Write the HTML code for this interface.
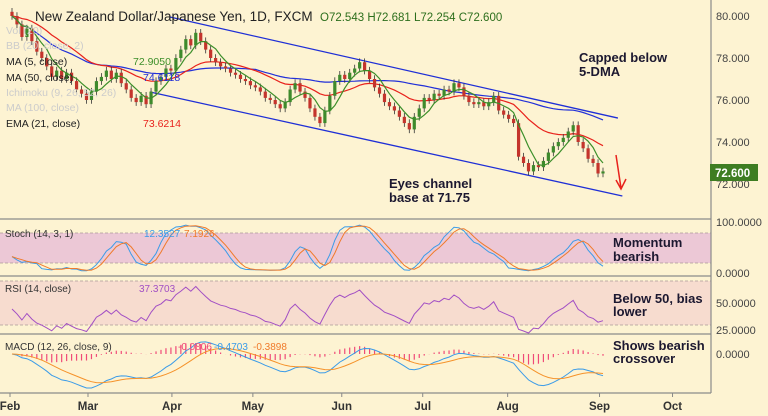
<!DOCTYPE html>
<html><head><meta charset="utf-8"><style>
html,body{margin:0;padding:0;background:#fdf3d2;}
svg{display:block;font-family:"Liberation Sans",sans-serif;}
</style></head><body>
<svg id="chart" width="768" height="416" viewBox="0 0 768 416" xmlns="http://www.w3.org/2000/svg">
<rect x="0" y="0" width="768" height="416" fill="#fdf3d2"/>
<g id="panes"></g>
<g id="marks"></g>
<g id="labels"></g>
</svg>
<script>
const closes=[80.0,79.6,79.0,79.4,78.8,78.3,78.0,77.6,77.1,77.4,77.0,77.3,76.9,76.5,76.3,76.0,76.4,76.9,77.1,77.4,
77.0,77.3,76.8,76.5,76.1,75.9,76.2,75.8,76.4,76.9,77.1,77.5,77.4,78.0,78.4,78.9,78.6,79.2,78.8,78.4,
78.0,77.8,77.6,77.5,77.3,77.2,77.0,76.9,76.7,76.6,76.4,76.1,76.0,75.8,75.6,75.9,76.5,76.8,76.4,76.1,
75.6,75.2,74.9,75.5,76.2,76.9,77.2,77.0,77.3,77.5,77.8,77.4,77.0,76.6,76.3,75.9,75.7,75.5,75.2,74.9,
74.6,75.2,75.6,76.1,76.0,76.3,76.2,76.5,76.4,76.8,76.6,76.2,75.9,75.8,75.9,75.7,75.9,76.2,75.5,75.3,
75.1,74.9,73.3,73.0,72.6,72.9,72.8,73.1,73.5,73.8,74.0,74.2,74.5,74.8,74.0,73.7,73.2,73.0,72.5,72.6];
const firstOpen=80.2;
const priceTicks=[80,78,76,74,72];
const monthLabels=["Feb","Mar","Apr","May","Jun","Jul","Aug","Sep","Oct"];
const monthIndex=[-0.4,15.3,32.2,48.5,66.4,82.7,99.8,118.3,133];
const upperChannel=[[31.8,79.95],[122,75.14]];
const lowerChannel=[[27.8,76.38],[122.9,71.43]];

const NS="http://www.w3.org/2000/svg";
const X=i=>12+i*(591/(closes.length-1));
const PY=p=>16+(80-p)*21;
const SY=v=>273-v*0.51;
const RY=v=>303-(v-50)*1.08;
function el(tag,attrs,parent){const e=document.createElementNS(NS,tag);for(const k in attrs)e.setAttribute(k,attrs[k]);(parent||document.getElementById('marks')).appendChild(e);return e;}
function txt(s,x,y,attrs,parent){const t=el('text',Object.assign({x:x,y:y},attrs),parent||document.getElementById('labels'));t.textContent=s;return t;}
function poly(vals,yf,color,w,name){let d="";vals.forEach((v,i)=>{if(v==null)return;d+=(d?"L":"M")+X(i).toFixed(1)+","+yf(v).toFixed(1);});const p=el('path',{d:d,fill:"none",stroke:color,"stroke-width":w});return p;}

const panes=document.getElementById('panes');
let r=el('rect',{x:0,y:233,width:711,height:30,fill:"#ecc8d6"},panes);

r=el('rect',{x:0,y:281,width:711,height:44,fill:"#f7dccf"},panes);

[233,263,281,325].forEach(y=>{const l=el('line',{x1:0,x2:711,y1:y,y2:y,stroke:"#a99",'stroke-dasharray':"3,2",'stroke-width':0.8},panes);});
[219,276,334,393].forEach(y=>{const l=el('line',{x1:0,x2:711,y1:y,y2:y,stroke:"#8a8a8a",'stroke-width':1.2},panes);});
let ax=el('line',{x1:711,x2:711,y1:0,y2:393,stroke:"#8a8a8a",'stroke-width':1.2},panes);


const opens=closes.map((c,i)=>i?closes[i-1]:firstOpen);
const highs=closes.map((c,i)=>Math.max(c,opens[i])+0.18);
const lows=closes.map((c,i)=>Math.min(c,opens[i])-0.18);

[[upperChannel,'upper-channel-line'],[lowerChannel,'lower-channel-line']].forEach(([c,n])=>{const l=el('line',{x1:X(c[0][0]),y1:PY(c[0][1]),x2:X(c[1][0]),y2:PY(c[1][1]),stroke:"#1f2fd6",'stroke-width':1.3});});

function sma(a,n){return a.map((v,i)=>{const s=a.slice(Math.max(0,i-n+1),i+1).filter(x=>x!=null);return s.length?s.reduce((p,q)=>p+q,0)/s.length:null;});}
function ema(a,n){const k=2/(n+1);let e=null;return a.map(v=>{e=e==null?v:v*k+e*(1-k);return e;});}
poly(sma(closes,50),PY,"#2230d8",1.2,'ma50-line');
poly(ema(closes,21),PY,"#e8221c",1.2,'ema21-line');

closes.forEach((c,i)=>{const o=opens[i],up=c>=o,col=up?"#3e8a2c":"#c4342c",x=X(i);
const w=el('line',{x1:x,x2:x,y1:PY(highs[i]),y2:PY(lows[i]),stroke:"#333",'stroke-width':0.8});
const b=el('rect',{x:x-1.6,y:PY(Math.max(o,c)),width:3.2,height:Math.max(1,Math.abs(PY(o)-PY(c))),fill:col});});
poly(sma(closes,5),PY,"#3c8f2a",1.2,'ma5-line');

const raw=closes.map((c,i)=>{const hh=Math.max(...highs.slice(Math.max(0,i-13),i+1)),ll=Math.min(...lows.slice(Math.max(0,i-13),i+1));return 100*(c-ll)/(hh-ll||1);});
const kLine=sma(raw,3),dLine=sma(kLine,3);
poly(kLine,SY,"#3a9be8",1,'stoch-k-line');
poly(dLine,SY,"#f07a2a",1,'stoch-d-line');
let ag=0.12,al=0.15;const rsi=closes.map((c,i)=>{if(i){const d=c-closes[i-1];ag=(ag*13+Math.max(d,0))/14;al=(al*13+Math.max(-d,0))/14;}return 100-100/(1+ag/al);});
poly(rsi,RY,"#a24fc4",1,'rsi-line');
const e12=ema(closes,12),e26=ema(closes,26),macd=e12.map((v,i)=>v-e26[i]),sig=ema(macd,9),hist=macd.map((v,i)=>v-sig[i]);
const mmax=Math.max(...macd.map(Math.abs),0.01);const MY=v=>354+(-v)*34/mmax;
const hmax=Math.max(...hist.map(Math.abs),0.01);
hist.forEach((h,i)=>{const b=el('line',{x1:X(i),x2:X(i),y1:354,y2:354-h*11/hmax,stroke:"#f04a78",'stroke-width':1.2});});
poly(macd,MY,"#3a9be8",1,'macd-line');
poly(sig,MY,"#f5922a",1,'macd-signal-line');

let a=el('path',{d:"M616,155 L621,188 M616,180 L621,189 L626,179",stroke:"#e8221c",fill:"none",'stroke-width':1.5});


const L=document.getElementById('labels');
priceTicks.forEach(p=>{const t=txt(p.toFixed(3),716,PY(p)+4,{'font-size':11,fill:"#444"});});
let pb=el('rect',{x:710,y:164,width:48,height:17,fill:"#3e7d22"},L);
let pt=txt(closes[closes.length-1].toFixed(3),715,177,{'font-size':11.5,fill:"#fff",'font-weight':'bold'});
[["100.0000",226],["0.0000",277],["50.0000",307],["25.0000",334],["0.0000",358]].forEach(([s,y])=>{const t=txt(s,716,y,{'font-size':11,fill:"#444"});});
monthLabels.forEach((m,i)=>{const x=X(monthIndex[i]);const tk=el('line',{x1:x,x2:x,y1:393,y2:397,stroke:"#888"},L);
const t=txt(m,x,410,{'font-size':11.5,fill:"#333",'font-weight':'bold','text-anchor':'middle'});});

let t=txt("New Zealand Dollar/Japanese Yen, 1D, FXCM",35,21,{'font-size':13.5,fill:"#222"});
t=txt("O72.543  H72.681  L72.254  C72.600",320,21,{'font-size':11.5,fill:"#2c6e1c",'xml:space':'preserve'});
const leg=[["Vol (20)",34,"#ccc",null,null],["BB (20, close, 2)",49,"#ccc",null,null],["MA (5, close)",65,"#222","72.9050","#3c8f2a"],["MA (50, close)",81,"#222","74.6118","#2230d8"],["Ichimoku (9, 26, 52, 26)",96,"#ccc",null,null],["MA (100, close)",111,"#ccc",null,null],["EMA (21, close)",127,"#222","73.6214","#e8221c"]];
leg.forEach(([s,y,c,v,vc])=>{const a=txt(s,6,y,{'font-size':10.5,fill:c});
if(v){const b=txt(v,s.length>13?143:133,y,{'font-size':10.5,fill:vc});}});
t=txt("Stoch (14, 3, 1)",5,237,{'font-size':10,fill:"#333"});
t=txt("12.3527",144,237,{'font-size':10,fill:"#3a9be8"});
t=txt("7.1926",184,237,{'font-size':10,fill:"#f07a2a"});
t=txt("RSI (14, close)",5,292,{'font-size':10,fill:"#333"});
t=txt("37.3703",139,292,{'font-size':10,fill:"#a24fc4"});
t=txt("MACD (12, 26, close, 9)",5,350,{'font-size':10,fill:"#333"});
t=txt("-0.0806",178,350,{'font-size':10,fill:"#f04a78"});
t=txt("-0.4703",214,350,{'font-size':10,fill:"#3a9be8"});
t=txt("-0.3898",253,350,{'font-size':10,fill:"#f07a2a"});

[["Capped below",579,62],["5-DMA",579,76],["Eyes channel",389,188],["base at 71.75",389,202],["Momentum",613,247],["bearish",613,261],["Below 50, bias",613,303],["lower",613,316],["Shows bearish",613,350],["crossover",613,363]].forEach(([s,x,y])=>{const a=txt(s,x,y,{'font-size':13,'font-weight':'bold',fill:"#1c1830"});});
</script>
</body></html>
